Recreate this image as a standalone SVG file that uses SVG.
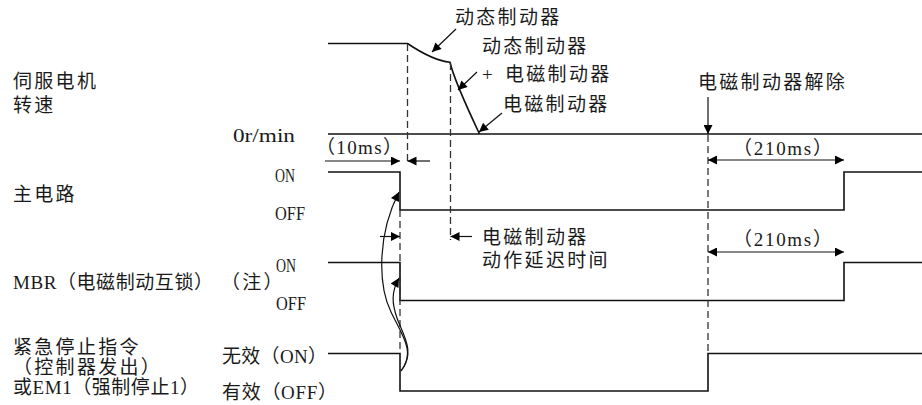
<svg xmlns="http://www.w3.org/2000/svg" width="922" height="405" viewBox="0 0 922 405">
<style>
.cn{font-family:"Noto Sans CJK SC",sans-serif;font-size:19px;letter-spacing:2.3px;fill:#1a1a1a}
.lat{font-family:"Liberation Serif",serif;font-size:19px;fill:#1a1a1a}
.mix{font-family:"Liberation Serif","Noto Sans CJK SC",serif;font-size:19px;fill:#1a1a1a}
.sig{fill:none;stroke:#111;stroke-width:1.6}
.dash{fill:none;stroke:#333;stroke-width:1.3;stroke-dasharray:7 4}
.arr{fill:none;stroke:#111;stroke-width:1.2}
</style>
<defs>
<marker id="ah" viewBox="0 0 10 10" refX="10" refY="5" markerWidth="11" markerHeight="9" markerUnits="userSpaceOnUse" orient="auto-start-reverse">
<path d="M0,0 L10,5 L0,10 z" fill="#000"/>
</marker>
</defs>

<g id="labels">
<text class="cn" x="13" y="88">伺服电机</text>
<text class="cn" x="13" y="112">转速</text>
<text class="lat" x="233" y="141.5" textLength="62" lengthAdjust="spacingAndGlyphs">0r/min</text>
<text class="cn" x="13" y="200.5">主电路</text>
<text class="lat" x="275" y="181.5" textLength="20" lengthAdjust="spacingAndGlyphs">ON</text>
<text class="lat" x="275" y="220" textLength="30" lengthAdjust="spacingAndGlyphs">OFF</text>
<text class="mix" x="13" y="288.5" textLength="200" lengthAdjust="spacing">MBR（电磁制动互锁）</text>
<text class="cn" x="221" y="288.5">（注）</text>
<text class="lat" x="276" y="272" textLength="20" lengthAdjust="spacingAndGlyphs">ON</text>
<text class="lat" x="276" y="310" textLength="30" lengthAdjust="spacingAndGlyphs">OFF</text>
<text class="cn" x="13" y="353.5">紧急停止指令</text>
<text class="cn" x="13" y="374">（控制器发出）</text>
<text class="mix" x="13" y="393.5" textLength="186" lengthAdjust="spacing">或EM1（强制停止1）</text>
<text class="mix" x="222" y="363" textLength="105" lengthAdjust="spacing">无效（ON）</text>
<text class="mix" x="222" y="399" textLength="115" lengthAdjust="spacing">有效（OFF）</text>
</g>

<g id="speed">
<path class="sig" d="M328,43.5 H407.5 Q433,60.6 450,62.3 Q454,80 479.5,134"/>
<line class="sig" x1="328" y1="134" x2="922" y2="134"/>
</g>
<g id="main-circuit">
<path class="sig" d="M328,172 H400 V210 H844 V172 H922"/>
</g>
<g id="mbr">
<path class="sig" d="M328,262.5 H400 V300.5 H844 V262.5 H922"/>
</g>
<g id="emergency">
<path class="sig" d="M328,353.5 H400 V391 H708 V353.5 H922"/>
</g>

<g id="annotations">
<text class="cn" x="455" y="24">动态制动器</text>
<text class="cn" x="482" y="53">动态制动器</text>
<text class="lat" x="482" y="81">+</text>
<text class="cn" x="505" y="81">电磁制动器</text>
<text class="cn" x="503" y="111">电磁制动器</text>
<text class="cn" x="698" y="89">电磁制动器解除</text>
<text class="cn" x="482" y="243.5">电磁制动器</text>
<text class="cn" x="482" y="267">动作延迟时间</text>
<text class="mix" x="316" y="154" textLength="86" lengthAdjust="spacing">（10ms）</text>
<text class="mix" x="733" y="155" textLength="99" lengthAdjust="spacing">（210ms）</text>
<text class="mix" x="733" y="246" textLength="99" lengthAdjust="spacing">（210ms）</text>
</g>

<g id="connectors">
<line class="dash" x1="407.5" y1="44" x2="407.5" y2="165"/>
<line class="dash" x1="400" y1="210" x2="400" y2="353"/>
<line class="dash" x1="450.5" y1="63" x2="450.5" y2="240"/>
<line class="dash" x1="708" y1="135" x2="708" y2="353"/>

<line class="arr" x1="325" y1="161" x2="400" y2="161" marker-end="url(#ah)"/>
<line class="arr" x1="430" y1="161" x2="407.5" y2="161" marker-end="url(#ah)"/>
<line class="arr" x1="380" y1="236.5" x2="400" y2="236.5" marker-end="url(#ah)"/>
<line class="arr" x1="472" y1="236.5" x2="450.5" y2="236.5" marker-end="url(#ah)"/>
<line class="arr" x1="708" y1="160" x2="844" y2="160" marker-start="url(#ah)" marker-end="url(#ah)"/>
<line class="arr" x1="708" y1="252" x2="844" y2="252" marker-start="url(#ah)" marker-end="url(#ah)"/>

<line class="arr" x1="456" y1="29" x2="432" y2="52" marker-end="url(#ah)"/>
<line class="arr" x1="477" y1="72" x2="458" y2="90" marker-end="url(#ah)"/>
<line class="arr" x1="502" y1="113" x2="479" y2="132" marker-end="url(#ah)"/>
<line class="arr" x1="708" y1="97" x2="708" y2="134" marker-end="url(#ah)"/>

<path class="arr" d="M401,371 C416,352 402,335 391,312 C378,285 377,235 399,192" marker-end="url(#ah)"/>
<path class="arr" d="M401,371 C416,352 403,335 397,318 C392,304 391,292 399,278" marker-end="url(#ah)"/>
</g>
</svg>
